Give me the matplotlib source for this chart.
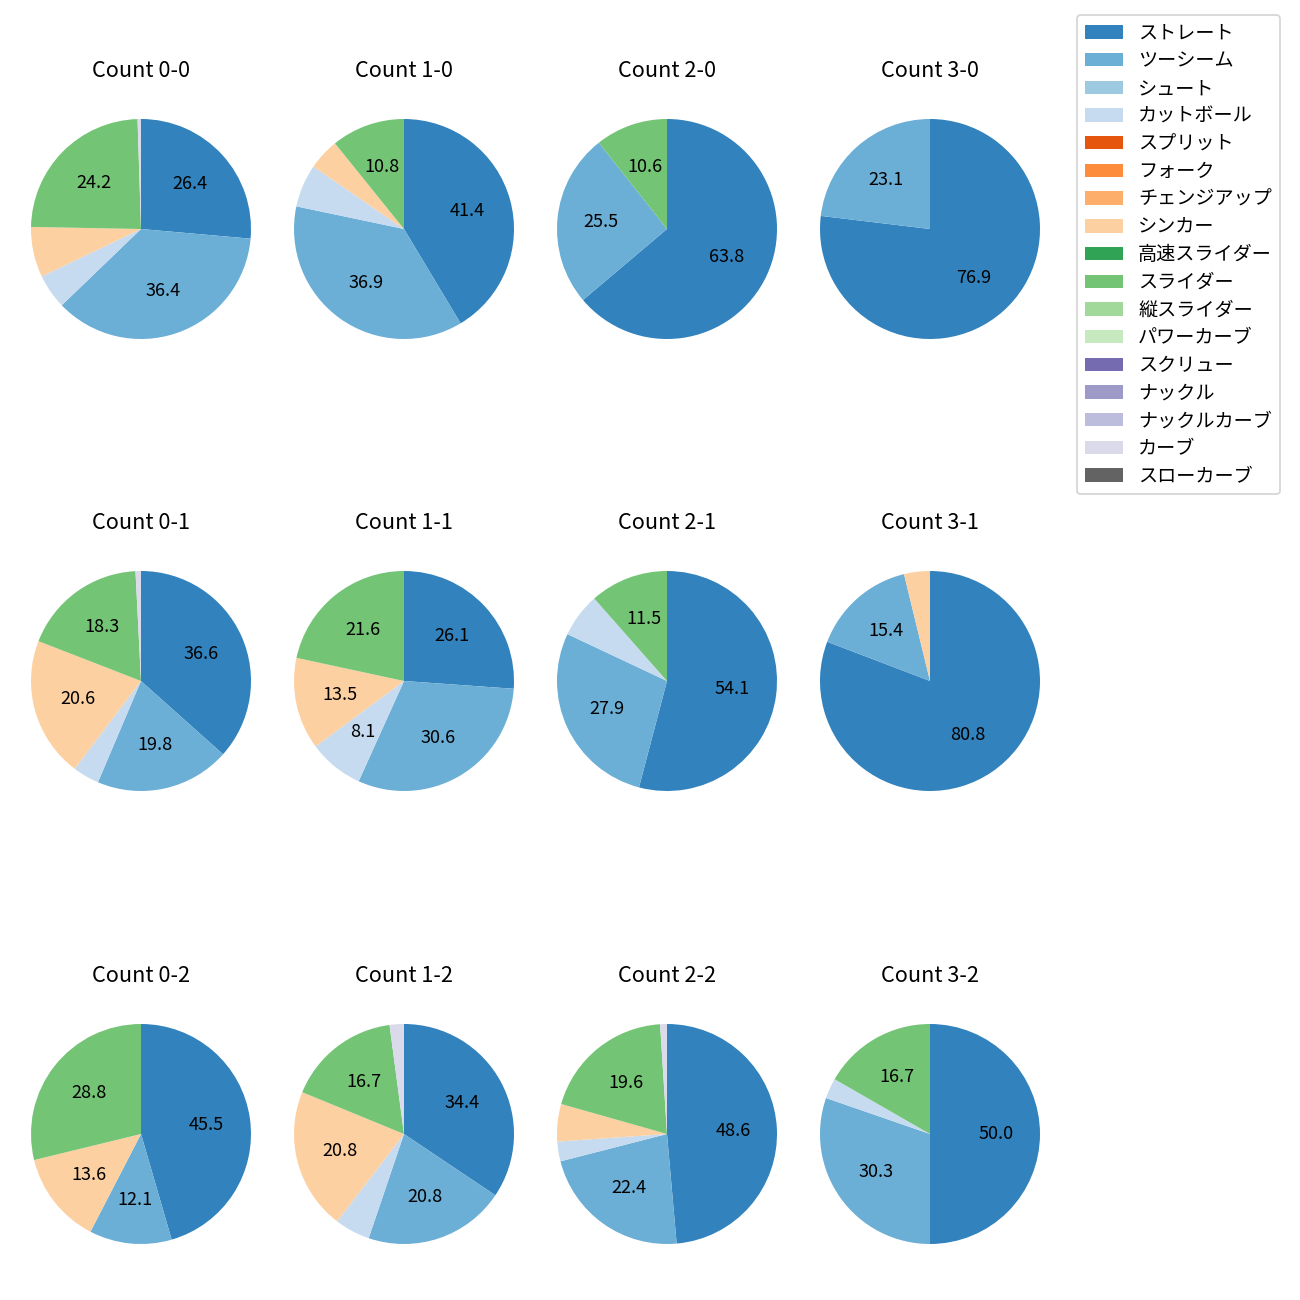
import matplotlib
matplotlib.use("Agg")
import matplotlib.pyplot as plt
from matplotlib.patches import Patch

plt.rcParams['font.family'] = ['Noto Sans CJK JP', 'DejaVu Sans']

pitch_types = ['ストレート', 'ツーシーム', 'シュート', 'カットボール', 'スプリット', 'フォーク',
               'チェンジアップ', 'シンカー', '高速スライダー', 'スライダー', '縦スライダー',
               'パワーカーブ', 'スクリュー', 'ナックル', 'ナックルカーブ', 'カーブ', 'スローカーブ']
colors = ['#3182bd', '#6baed6', '#9ecae1', '#c6dbef', '#e6550d', '#fd8d3c', '#fdae6b',
          '#fdd0a2', '#31a354', '#74c476', '#a1d99b', '#c7e9c0', '#756bb1', '#9e9ac8',
          '#bcbddc', '#dadaeb', '#636363']

count_titles = ['Count 0-0', 'Count 1-0', 'Count 2-0', 'Count 3-0',
                'Count 0-1', 'Count 1-1', 'Count 2-1', 'Count 3-1',
                'Count 0-2', 'Count 1-2', 'Count 2-2', 'Count 3-2']
straight = [26.4, 41.4, 63.83, 76.9, 36.6, 26.1, 54.1, 80.8, 45.5, 34.4, 48.6, 50.0]
twoseam  = [36.4, 36.9, 25.53, 23.1, 19.8, 30.6, 27.9, 15.4, 12.1, 20.8, 22.4, 30.3]
cutball  = [5.1, 6.3, 0, 0, 3.9, 8.1, 6.5, 0, 0, 5.2, 2.9, 3.0]
sinker   = [7.4, 4.6, 0, 0, 20.6, 13.5, 0, 3.8, 13.6, 20.8, 5.5, 0]
slider   = [24.2, 10.8, 10.64, 0, 18.3, 21.6, 11.5, 0, 28.8, 16.7, 19.6, 16.7]
curve    = [0.5, 0, 0, 0, 0.8, 0, 0, 0, 0, 2.1, 1.0, 0]

series = {'ストレート': straight, 'ツーシーム': twoseam, 'カットボール': cutball,
          'シンカー': sinker, 'スライダー': slider, 'カーブ': curve}

W, H = 1300, 1300
fig = plt.figure(figsize=(10, 10), dpi=130)

col_cx = [141, 404, 667, 930]
row_cy = [229, 681, 1134]
radius_px = 110
ax_size = radius_px * 2.5

for i, title in enumerate(count_titles):
    r, c = divmod(i, 4)
    cx, cy = col_cx[c], row_cy[r]
    ax = fig.add_axes([(cx - ax_size / 2) / W, 1 - (cy + ax_size / 2) / H, ax_size / W, ax_size / H])
    vals, cols = [], []
    for name, col in zip(pitch_types, colors):
        if name in series and series[name][i] > 0:
            vals.append(series[name][i])
            cols.append(col)
    ax.pie(vals, colors=cols, startangle=90, counterclock=False,
           autopct=lambda p: f'{p:.1f}' if p >= 8 else '', pctdistance=0.6,
           textprops={'fontsize': 10})
    ax.set_title(title, fontsize=12, pad=8)

handles = [Patch(facecolor=c, label=n) for n, c in zip(pitch_types, colors)]
fig.legend(handles=handles, loc='upper left', bbox_to_anchor=(1077 / W, 1 - 15 / H),
           borderaxespad=0, fontsize=10.6, labelspacing=0.35)

fig.savefig('out.png', dpi=130)
